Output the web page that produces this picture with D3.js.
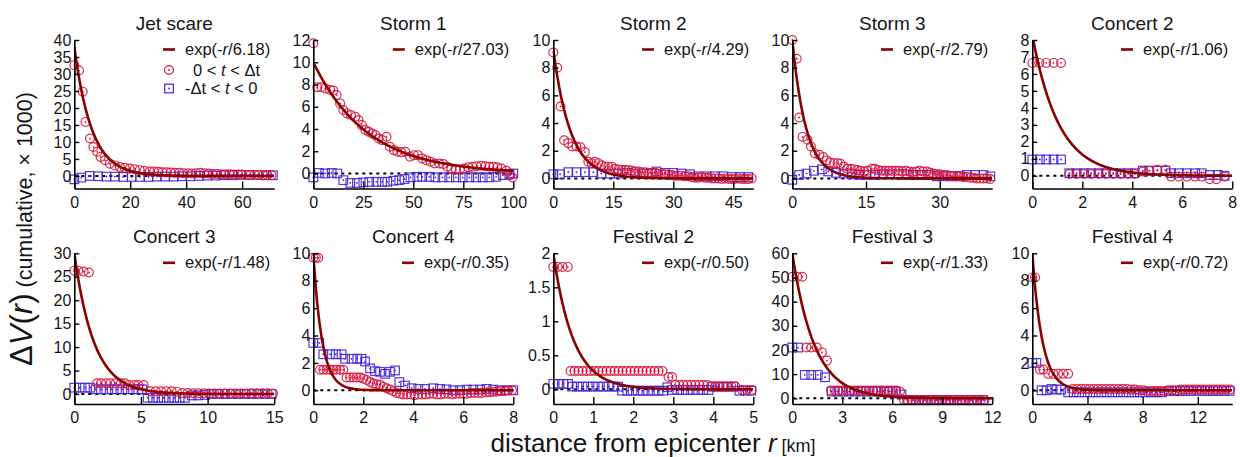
<!DOCTYPE html>
<html>
<head>
<meta charset="utf-8">
<script src="https://cdn.jsdelivr.net/npm/d3@7"></script>
<style>
  body { margin: 0; background: #fff; }
  svg { font-family: "Liberation Sans", Arial, sans-serif; }
  text { fill: #151515; }
</style>
</head>
<body>
<svg id="chart" width="1240" height="457"></svg>
<script>
// panel text and fit parameters
const TITLES = ["Jet scare", "Storm 1", "Storm 2", "Storm 3", "Concert 2",
  "Concert 3", "Concert 4", "Festival 2", "Festival 3", "Festival 4"];
const FIT_LENGTH = [6.18, 27.03, 4.29, 2.79, 1.06, 1.48, 0.35, 0.50, 1.33, 0.72];
const FIT_AMP = [38, 10, 9.3, 10, 8.3, 30, 10, 2, 60, 10];

// axis ranges and ticks
const X_MAX = [71.5, 100, 50, 40.7, 8, 15, 8, 5, 12, 14.5];
const Y_MIN = [-3.7, -1.35, -0.73, -0.73, -0.75, -2.13, -1.0, -0.216, -2.36, -1.0];
const Y_MAX = [40, 12, 10, 10, 8, 30, 10, 2, 60, 10];
const X_TICKS = [[0, 20, 40, 60], [0, 25, 50, 75, 100], [0, 15, 30, 45], [0, 15, 30], [0, 2, 4, 6, 8],
  [0, 5, 10, 15], [0, 2, 4, 6, 8], [0, 1, 2, 3, 4, 5], [0, 3, 6, 9, 12], [0, 4, 8, 12]];
const Y_TICKS = [[0, 5, 10, 15, 20, 25, 30, 35, 40], [0, 2, 4, 6, 8, 10, 12], [0, 2, 4, 6, 8, 10],
  [0, 2, 4, 6, 8, 10], [0, 1, 2, 3, 4, 5, 6, 7, 8], [0, 5, 10, 15, 20, 25, 30], [0, 2, 4, 6, 8, 10],
  [0, 0.5, 1, 1.5, 2], [0, 10, 20, 30, 40, 50, 60], [0, 2, 4, 6, 8, 10]];

// [r, ΔV] pairs, 0 < t < Δt (circles) and -Δt < t < 0 (squares)
const JET_CIRC = [[0,32.6],[1.7,31],[3,24.8],[4,15.9],[5.6,11],[6.8,8.5],[8.2,7.1],[9.4,5.6],[11,4.6],[12.7,3.6],[14.5,3.1],[16.3,2.6],[18,2.4],[19.8,2.2],[21.6,2.0],[23.4,1.7],[25,1.5],[27,1.3],[28.5,1.3],[30,1.2],[31.5,1.1],[33,1.1],[34.5,1.0],[36,0.9],[37.5,0.9],[39,0.8],[40.5,0.8],[42,0.7],[43.5,0.8],[45,0.9],[46.5,0.8],[48,0.7],[49.5,0.6],[51,0.6],[52.5,0.5],[54,0.5],[55.5,0.5],[57,0.4],[58.5,0.4],[60,0.4],[61.5,0.3],[63,0.3],[64.5,0.3],[66,0.3],[67.5,0.2],[69,0.2],[70.5,0.2]];
const JET_SQ = [[0,-1.0],[2.5,-0.5],[5.5,0],[8.5,-0.1],[11.5,-0.2],[14.5,-0.2],[17.5,-0.3],[20.5,-0.3],[23.5,-0.3],[26.5,-0.3],[29.5,-0.2],[32.5,-0.2],[35.5,-0.2],[38.5,-0.1],[41.5,-0.1],[44.5,0],[47.5,0.1],[50.5,0.1],[53.5,0.2],[56.5,0.2],[59.5,0.3],[62.5,0.3],[65.5,0.3],[68.5,0.2],[71,0.2]];

const STORM1_CIRC = [[0,11.7],[2,7.75],[4,7.75],[6,7.65],[8.4,7.5],[10,7.45],[11.7,7.05],[13.4,6.3],[15,5.7],[16.8,5.4],[18.8,5.25],[21,5.1],[22.6,4.8],[24.3,4.35],[26,3.9],[27.7,3.75],[29.4,3.6],[31,3.45],[32.7,3.15],[34.4,3.0],[36.6,3.3],[38.3,2.4],[40.3,2.1],[42,1.95],[44,1.9],[46,1.95],[48.3,1.5],[50.3,1.65],[52.3,1.65],[54.5,1.35],[56.5,1.2],[58.7,1.05],[60.7,0.9],[63,0.9],[65,0.85],[67,0.6],[69,0.45],[71.3,0.35],[73.3,0.35],[75.5,0.45],[77.5,0.55],[79.7,0.6],[81.7,0.65],[84,0.7],[86,0.65],[88,0.6],[90,0.6],[92,0.55],[94,0.45],[96.5,0.25],[98.5,-0.15],[99.5,-0.35]];
const STORM1_SQ = [[0,-0.35],[2.8,0.05],[5.9,0],[9.2,0.05],[12,0],[15,-0.6],[18.5,-0.85],[21.8,-0.85],[25,-0.8],[28,-0.75],[31.5,-0.75],[34.4,-0.75],[37,-0.75],[40,-0.65],[43,-0.6],[45.6,-0.5],[48.6,-0.35],[52,-0.3],[54.5,-0.3],[58,-0.3],[61,-0.35],[64.6,-0.35],[68,-0.35],[71.3,-0.35],[74.7,-0.35],[78,-0.35],[81.4,-0.35],[84.7,-0.35],[88,-0.35],[91.4,-0.3],[94.8,-0.15],[98,-0.05],[100,0]];

const STORM2_CIRC = [[0,9.1],[1,8.0],[1.8,5.2],[2.7,2.75],[3.75,2.55],[4.75,2.3],[5.8,2.3],[6.8,2.25],[7.9,1.9],[8.75,1.2],[9.6,1.1],[10.4,1.2],[11.25,1.1],[12.1,0.95],[12.9,0.85],[13.75,0.85],[14.6,0.85],[15.4,0.7],[16.25,0.65],[17.1,0.6],[17.9,0.6],[18.75,0.6],[19.6,0.55],[20.4,0.5],[21.25,0.5],[22.1,0.45],[22.9,0.45],[23.75,0.4],[24.6,0.4],[25.4,0.4],[26.25,0.35],[27.1,0.3],[27.9,0.3],[28.75,0.25],[29.6,0.25],[30.4,0.2],[31.25,0.2],[32.1,0.2],[32.9,0.15],[33.75,0.15],[34.6,0.1],[35.4,0.05],[36.25,0.05],[37.1,0.1],[37.9,0.05],[38.75,0.05],[39.6,0],[40.4,0],[41.25,0],[42.1,-0.05],[42.9,0],[43.75,-0.05],[44.6,-0.05],[45.4,-0.05],[46.25,0],[47.1,-0.05],[47.9,-0.05],[48.75,-0.05],[49.6,0]];
const STORM2_SQ = [[0,0.3],[1.7,0.3],[3.75,0.45],[5.8,0.45],[7.9,0.45],[10,0.45],[12,0.35],[14.2,0.35],[16.25,0.35],[18.3,0.4],[20.4,0.35],[22.5,0.35],[24.6,0.35],[25.8,0.5],[27.9,0.4],[30,0.4],[32,0.35],[34.2,0.3],[36.25,0.15],[38.3,0.15],[40.4,0.15],[42.5,0.15],[44.6,0.1],[46.7,0.1],[48.75,0.1]];

const STORM3_CIRC = [[0,10],[0.9,8.65],[1.4,4.4],[2.1,3.0],[3.1,2.8],[3.8,2.3],[4.6,1.8],[5.5,1.7],[6.3,1.55],[7.0,1.3],[7.7,1.15],[8.5,1.1],[9.2,1.1],[9.8,1.05],[10.5,0.85],[11.2,0.7],[11.9,0.7],[12.6,0.65],[13.2,0.6],[13.9,0.55],[14.6,0.5],[15.3,0.55],[16.2,0.7],[16.8,0.7],[17.5,0.6],[18.2,0.55],[18.9,0.55],[19.6,0.55],[20.3,0.55],[21,0.55],[21.7,0.55],[22.4,0.5],[23.1,0.55],[23.8,0.5],[24.5,0.45],[25.2,0.5],[25.9,0.55],[26.6,0.5],[27.4,0.5],[28.1,0.4],[28.7,0.35],[29.4,0.3],[30,0.3],[30.7,0.25],[31.4,0.25],[32.1,0.2],[32.8,0.15],[33.5,0.15],[34.1,0.15],[34.8,0.1],[35.5,0.1],[36.2,0.05],[36.9,0.05],[37.5,0],[38.2,0],[38.9,0],[39.6,0],[40.3,-0.05]];
const STORM3_SQ = [[0,-0.1],[1.4,0.25],[2.9,0.35],[4.4,0.55],[6,0.65],[7.3,0.5],[8.9,0.4],[10.4,0.35],[12.1,0.3],[13.6,0.25],[15.1,0.25],[16.8,0.25],[18.5,0.3],[19.9,0.3],[21.6,0.3],[23.3,0.3],[24.6,0.25],[26.3,0.25],[27.7,0.25],[29.4,0.15],[30.8,0.15],[32.4,0.15],[34.1,0.15],[35.5,0.25],[37.2,0.25],[38.9,0.25],[40.3,0.15]];

const CONCERT2_CIRC = [[0,6.65],[0.28,6.65],[0.56,6.65],[0.85,6.65],[1.15,6.65],[1.48,0.1],[1.77,0.1],[2.07,0.1],[2.35,0.1],[2.65,0.1],[2.94,0.1],[3.24,0.1],[3.53,0.1],[3.83,0.1],[4.09,0.1],[4.42,0.25],[4.68,0.3],[5.0,0.35],[5.33,0.35],[5.55,-0.05],[5.86,-0.05],[6.18,-0.05],[6.51,-0.05],[6.77,-0.05],[7.1,-0.2],[7.36,-0.2],[7.69,-0.05]];
const CONCERT2_SQ = [[0,0.96],[0.3,0.96],[0.56,0.96],[0.85,0.96],[1.15,0.96],[1.48,0.15],[1.77,0.15],[2.07,0.15],[2.35,0.15],[2.65,0.15],[2.94,0.15],[3.24,0.15],[3.53,0.15],[3.83,0.15],[4.09,0.15],[4.42,0.3],[4.68,0.3],[5.0,0.3],[5.33,0.3],[5.55,0.15],[5.86,0.15],[6.18,0.15],[6.51,0.15],[6.77,0.15],[7.1,0.05],[7.42,0.05],[7.69,0]];

const CONCERT3_CIRC = [[0,26.3],[0.3,26.3],[0.7,26.1],[1.1,25.9],[1.7,2.3],[2.0,2.3],[2.4,2.3],[2.7,2.3],[3.1,2.3],[3.5,2.3],[3.8,2.3],[4.1,1.9],[4.5,1.9],[4.8,1.9],[5.2,1.9],[5.7,0.6],[6.1,0.6],[6.5,0.6],[6.9,0.6],[7.3,0.6],[7.7,0.5],[8.1,0.2],[8.5,0.2],[8.9,0.15],[9.3,0.15],[9.7,0.15],[10.1,0.1],[10.5,0.1],[10.9,0.1],[11.3,0.1],[11.7,0.1],[12.1,0.1],[12.5,0.1],[12.9,0.1],[13.3,0.15],[13.7,0.15],[14.1,0.15],[14.5,0.15],[14.9,0.1]];
const CONCERT3_SQ = [[0,1.35],[0.4,1.35],[0.8,1.35],[1.2,1.35],[1.6,1.0],[2.0,1.0],[2.4,1.0],[2.8,1.0],[3.2,1.0],[3.6,1.0],[4.0,1.0],[4.4,1.0],[4.8,1.0],[5.1,1.0],[5.5,-0.8],[5.9,-0.8],[6.3,-0.8],[6.7,-0.8],[7.1,-0.8],[7.5,-0.8],[7.9,-0.8],[8.3,-0.8],[8.8,-0.3],[9.3,-0.3],[9.8,-0.2],[10.3,0],[10.8,0],[11.3,0],[11.8,0],[12.3,0],[12.8,0],[13.3,0],[13.8,0],[14.3,0],[14.8,0]];

const CONCERT4_CIRC = [[0,9.68],[0.1,9.68],[0.2,9.68],[0.27,1.5],[0.4,1.5],[0.53,1.5],[0.67,1.5],[0.8,1.5],[0.93,1.5],[1.07,1.5],[1.2,1.5],[1.33,0.93],[1.47,0.93],[1.6,0.93],[1.73,0.93],[1.87,0.93],[2.0,0.85],[2.13,0.75],[2.27,0.6],[2.4,0.5],[2.53,0.45],[2.67,0.4],[2.8,0.25],[2.93,0.15],[3.07,0.05],[3.2,-0.07],[3.33,-0.2],[3.47,-0.25],[3.6,-0.3],[3.75,-0.3],[3.9,-0.3],[4.05,-0.35],[4.2,-0.3],[4.35,-0.3],[4.5,-0.3],[4.65,-0.25],[4.8,-0.25],[4.95,-0.3],[5.1,-0.3],[5.25,-0.25],[5.4,-0.25],[5.55,-0.3],[5.7,-0.25],[5.85,-0.25],[6.0,-0.25],[6.15,-0.25],[6.3,-0.2],[6.45,-0.2],[6.6,-0.2],[6.75,-0.2],[6.9,-0.15],[7.05,-0.15],[7.2,-0.1],[7.35,-0.1],[7.5,-0.05],[7.65,-0.05],[7.8,0],[7.95,0]];
const CONCERT4_SQ = [[0,3.46],[0.24,3.46],[0.4,2.63],[0.67,2.63],[0.9,2.63],[1.13,2.63],[1.27,2.3],[1.53,2.3],[1.76,2.3],[1.93,2.3],[2.07,2.1],[2.27,1.6],[2.47,1.4],[2.67,1.35],[2.87,1.2],[3.07,1.35],[3.27,1.45],[3.44,0.6],[3.67,0.35],[3.93,0.15],[4.2,0.1],[4.47,0.1],[4.8,0.15],[5.07,0.1],[5.33,0.07],[5.6,0],[5.87,0],[6.13,0.05],[6.4,0.05],[6.67,0.05],[6.93,0.1],[7.2,0.05],[7.47,0],[7.73,0],[8.0,0]];

const FEST2_CIRC = [[0,1.8],[0.11,1.8],[0.23,1.8],[0.36,1.8],[0.43,0.27],[0.53,0.27],[0.63,0.27],[0.73,0.27],[0.83,0.27],[0.93,0.27],[1.03,0.27],[1.13,0.27],[1.23,0.27],[1.33,0.27],[1.43,0.27],[1.53,0.27],[1.63,0.27],[1.73,0.27],[1.83,0.27],[1.93,0.27],[2.03,0.27],[2.13,0.27],[2.23,0.27],[2.33,0.27],[2.43,0.27],[2.53,0.27],[2.63,0.27],[2.73,0.27],[2.88,0.18],[2.97,0.18],[3.05,0.065],[3.15,0.065],[3.25,0.065],[3.35,0.065],[3.45,0.065],[3.55,0.065],[3.65,0.065],[3.75,0.065],[3.85,0.065],[3.95,0.04],[4.05,0.04],[4.15,0.04],[4.25,0.04],[4.35,0.04],[4.45,0.04],[4.55,0.04],[4.72,-0.01],[4.84,-0.01],[4.96,-0.01]];
const FEST2_SQ = [[0,0.08],[0.12,0.08],[0.25,0.08],[0.37,0.08],[0.47,0.04],[0.6,0.04],[0.73,0.04],[0.86,0.04],[0.99,0.04],[1.12,0.04],[1.25,0.04],[1.38,0.04],[1.5,0.04],[1.62,0.04],[1.72,-0.02],[1.85,-0.02],[1.98,-0.02],[2.11,-0.02],[2.24,-0.02],[2.37,-0.02],[2.5,-0.02],[2.63,-0.02],[2.75,-0.02],[2.85,0.03],[2.97,-0.01],[3.1,-0.01],[3.23,-0.01],[3.36,-0.01],[3.49,-0.01],[3.62,-0.01],[3.75,-0.01],[3.88,-0.01],[3.98,0.04],[4.11,0.04],[4.24,0.04],[4.37,0.04],[4.5,0.04],[4.65,-0.02],[4.8,-0.02],[4.95,-0.02]];

const FEST3_CIRC = [[0,50.3],[0.3,50.3],[0.6,50.3],[0.85,21],[1.14,21],[1.47,21],[1.78,19],[2.08,15.6],[2.32,3.2],[2.55,3.2],[2.78,3.2],[3.01,3.2],[3.24,3.2],[3.47,3.2],[3.7,3.2],[3.93,3.2],[4.16,3.2],[4.39,3.2],[4.62,3.2],[4.85,3.2],[5.08,3.2],[5.31,3.2],[5.54,3.2],[5.77,3.2],[6.0,3.2],[6.23,3.2],[6.46,2.8],[6.7,-0.7],[6.93,-0.7],[7.16,-0.7],[7.39,-0.7],[7.62,-0.7],[7.85,-0.7],[8.08,-0.7],[8.31,-0.7],[8.54,-0.7],[8.77,-0.7],[9.0,-0.7],[9.23,-0.7],[9.46,-0.7],[9.69,-0.7],[9.92,-0.7],[10.15,-0.7],[10.38,-0.7],[10.61,-0.7],[10.84,-0.7],[11.07,-0.7],[11.3,-0.7],[11.53,-0.7]];
const FEST3_SQ = [[0,21],[0.35,21],[0.75,9.7],[1.14,9.7],[1.53,9.7],[1.96,8.7],[2.35,2.8],[2.7,2.8],[3.05,2.8],[3.4,2.8],[3.75,2.8],[4.1,2.8],[4.45,2.8],[4.8,2.8],[5.15,2.8],[5.5,2.8],[5.85,2.8],[6.2,2.8],[6.55,1.6],[6.9,-0.7],[7.25,-0.7],[7.6,-0.7],[7.95,-0.7],[8.3,-0.7],[8.65,-0.7],[9.0,-0.7],[9.35,-0.7],[9.7,-0.7],[10.05,-0.7],[10.4,-0.7],[10.75,-0.7],[11.1,-0.7],[11.45,-0.7]];

const FEST4_CIRC = [[0,8.24],[0.2,8.24],[0.55,1.51],[0.8,1.51],[1.16,1.2],[1.52,1.2],[1.88,1.2],[2.24,1.2],[2.6,1.2],[2.95,0.1],[3.25,0.1],[3.55,0.1],[3.85,0.1],[4.15,0.1],[4.45,0.1],[4.75,0.1],[5.05,0.1],[5.35,0.1],[5.65,0.1],[5.95,0.1],[6.25,0.1],[6.55,0.1],[6.85,0.1],[7.15,0.05],[7.45,0.05],[7.75,0],[8.05,0],[8.35,-0.05],[8.65,-0.05],[8.95,-0.05],[9.25,-0.05],[9.55,-0.05],[9.85,0],[10.15,0],[10.45,0],[10.75,0.05],[11.05,0.05],[11.35,0.05],[11.65,0.05],[11.95,0.05],[12.25,0.05],[12.55,0.05],[12.85,0.05],[13.15,0.05],[13.45,0.05],[13.75,0.05],[14.05,0.05],[14.35,0.05]];
const FEST4_SQ = [[0,2.0],[0.3,2.0],[0.67,0],[1.04,0],[1.4,0.1],[1.76,0.05],[2.1,0.05],[2.6,-0.15],[3.0,-0.15],[3.4,-0.15],[3.8,-0.15],[4.2,-0.15],[4.6,-0.15],[5.0,-0.15],[5.4,-0.15],[5.8,-0.15],[6.2,-0.15],[6.6,-0.15],[7.0,-0.15],[7.4,-0.15],[7.8,-0.15],[8.2,-0.15],[8.6,-0.15],[9.0,-0.15],[9.4,-0.15],[9.9,-0.05],[10.3,-0.05],[10.7,-0.05],[11.1,-0.05],[11.5,-0.05],[11.9,-0.05],[12.3,-0.05],[12.7,-0.05],[13.1,-0.05],[13.5,-0.05],[13.9,-0.05],[14.3,-0.05]];

const CIRCLES = [JET_CIRC, STORM1_CIRC, STORM2_CIRC, STORM3_CIRC, CONCERT2_CIRC,
  CONCERT3_CIRC, CONCERT4_CIRC, FEST2_CIRC, FEST3_CIRC, FEST4_CIRC];
const SQUARES = [JET_SQ, STORM1_SQ, STORM2_SQ, STORM3_SQ, CONCERT2_SQ,
  CONCERT3_SQ, CONCERT4_SQ, FEST2_SQ, FEST3_SQ, FEST4_SQ];

// layout
const COLS = [74.3, 313.3, 553.3, 792.3, 1032.3];
const ROWS = [[40, 188.5], [253.3, 404]];
const PANEL_W = 200;
const RED = "#d8143c";
const BLUE = "#4422dd";
const FIT = "#8b0000";
const TICK_FONT = 16;

const svg = d3.select("#chart");

function styleAxis(g) {
  g.select(".domain").attr("stroke", "#000").attr("stroke-width", 1.6);
  g.selectAll(".tick line").attr("stroke", "#000").attr("stroke-width", 1.4);
  g.selectAll(".tick text").attr("font-size", TICK_FONT).attr("fill", "#151515")
    .attr("font-family", "Liberation Sans, Arial, sans-serif");
}

function drawPanel(i) {
  const col = i % 5;
  const row = Math.floor(i / 5);
  const [top, bottom] = ROWS[row];
  const h = bottom - top;
  const g = svg.append("g").attr("transform", `translate(${COLS[col]},${top})`);

  const x = d3.scaleLinear().domain([0, X_MAX[i]]).range([0, PANEL_W]);
  const y = d3.scaleLinear().domain([Y_MIN[i], Y_MAX[i]]).range([h, 0]);

  g.append("clipPath").attr("id", "clip" + i)
    .append("rect").attr("x", 0).attr("y", 0).attr("width", PANEL_W).attr("height", h);

  // zero reference
  g.append("line")
    .attr("x1", 0).attr("x2", PANEL_W)
    .attr("y1", y(0)).attr("y2", y(0))
    .attr("stroke", "#000").attr("stroke-width", 2)
    .attr("stroke-dasharray", "3,4");

  // squares: -Δt < t < 0
  const sq = g.append("g").selectAll("g").data(SQUARES[i]).join("g")
    .attr("transform", d => `translate(${x(d[0])},${y(d[1])})`);
  sq.append("rect").attr("x", -4.3).attr("y", -4.3).attr("width", 8.6).attr("height", 8.6)
    .attr("fill", "none").attr("stroke", BLUE).attr("stroke-width", 1.2).attr("stroke-opacity", 0.9);
  sq.append("circle").attr("r", 0.9).attr("fill", BLUE);

  // circles: 0 < t < Δt
  const ci = g.append("g").selectAll("g").data(CIRCLES[i]).join("g")
    .attr("transform", d => `translate(${x(d[0])},${y(d[1])})`);
  ci.append("circle").attr("r", 4.4)
    .attr("fill", "none").attr("stroke", RED).attr("stroke-width", 1.2).attr("stroke-opacity", 0.9);
  ci.append("circle").attr("r", 0.9).attr("fill", RED);

  // exponential fit
  const rs = d3.range(0, X_MAX[i] * 1.0001, X_MAX[i] / 300);
  const line = d3.line().x(r => x(r)).y(r => y(FIT_AMP[i] * Math.exp(-r / FIT_LENGTH[i])));
  g.append("path").datum(rs)
    .attr("d", line)
    .attr("clip-path", `url(#clip${i})`)
    .attr("fill", "none").attr("stroke", FIT).attr("stroke-width", 2.6);

  // axes, ticks pointing inward
  g.append("g").attr("transform", `translate(0,${h})`)
    .call(d3.axisBottom(x).tickValues(X_TICKS[i]).tickSizeInner(-7).tickSizeOuter(0).tickPadding(8)
      .tickFormat(d3.format("~g")))
    .call(styleAxis);
  g.append("g")
    .call(d3.axisLeft(y).tickValues(Y_TICKS[i]).tickSizeInner(-5).tickSizeOuter(0).tickPadding(3)
      .tickFormat(d3.format("~g")))
    .call(styleAxis);

  // title
  g.append("text")
    .attr("x", PANEL_W / 2).attr("y", -10)
    .attr("text-anchor", "middle")
    .attr("font-size", 19)
    .attr("font-weight", "normal")
    .text(TITLES[i]);

  // legend
  const legY = 15;
  const fitText = g.append("text")
    .attr("x", 196).attr("y", legY)
    .attr("text-anchor", "end")
    .attr("font-size", 16.5);
  fitText.append("tspan").text("exp(-");
  fitText.append("tspan").attr("font-style", "italic").text("r");
  fitText.append("tspan").text("/" + FIT_LENGTH[i].toFixed(2) + ")");
  const textStart = fitText.node().getBBox().x;
  const lineEnd = textStart - 10;
  g.append("line")
    .attr("x1", lineEnd - 12).attr("x2", lineEnd)
    .attr("y1", legY - 5.5).attr("y2", legY - 5.5)
    .attr("stroke", FIT).attr("stroke-width", 2.6);

  if (i === 0) {
    const mx = lineEnd - 6;
    const c = g.append("g").attr("transform", `translate(${mx},${legY + 15})`);
    c.append("circle").attr("r", 4.4).attr("fill", "none").attr("stroke", RED).attr("stroke-width", 1.2);
    c.append("circle").attr("r", 0.9).attr("fill", RED);
    const t1 = g.append("text").attr("x", textStart + 8).attr("y", legY + 20.5).attr("font-size", 16.5);
    t1.append("tspan").text("0 < ");
    t1.append("tspan").attr("font-style", "italic").text("t");
    t1.append("tspan").text(" < Δt");

    const s = g.append("g").attr("transform", `translate(${mx},${legY + 33.5})`);
    s.append("rect").attr("x", -4.3).attr("y", -4.3).attr("width", 8.6).attr("height", 8.6)
      .attr("fill", "none").attr("stroke", BLUE).attr("stroke-width", 1.2);
    s.append("circle").attr("r", 0.9).attr("fill", BLUE);
    const t2 = g.append("text").attr("x", textStart).attr("y", legY + 39).attr("font-size", 16.5);
    t2.append("tspan").text("-Δt < ");
    t2.append("tspan").attr("font-style", "italic").text("t");
    t2.append("tspan").text(" < 0");
  }
}

TITLES.forEach((t, i) => drawPanel(i));

// shared axis labels
const xLab = svg.append("text")
  .attr("x", 653).attr("y", 452)
  .attr("text-anchor", "middle")
  .attr("font-size", 26);
xLab.append("tspan").text("distance from epicenter ");
xLab.append("tspan").attr("font-style", "italic").text("r");
xLab.append("tspan").attr("font-size", 18).text(" [km]");

const yLab = svg.append("text")
  .attr("transform", "translate(32,229) rotate(-90)")
  .attr("text-anchor", "middle")
  .attr("font-size", 21.5);
yLab.append("tspan").attr("font-size", 31).text("Δ");
yLab.append("tspan").attr("font-size", 31).attr("font-style", "italic").text("V");
yLab.append("tspan").attr("font-size", 31).text("(");
yLab.append("tspan").attr("font-size", 31).attr("font-style", "italic").text("r");
yLab.append("tspan").attr("font-size", 31).text(")");
yLab.append("tspan").text(" (cumulative, × 1000)");
</script>
</body>
</html>
